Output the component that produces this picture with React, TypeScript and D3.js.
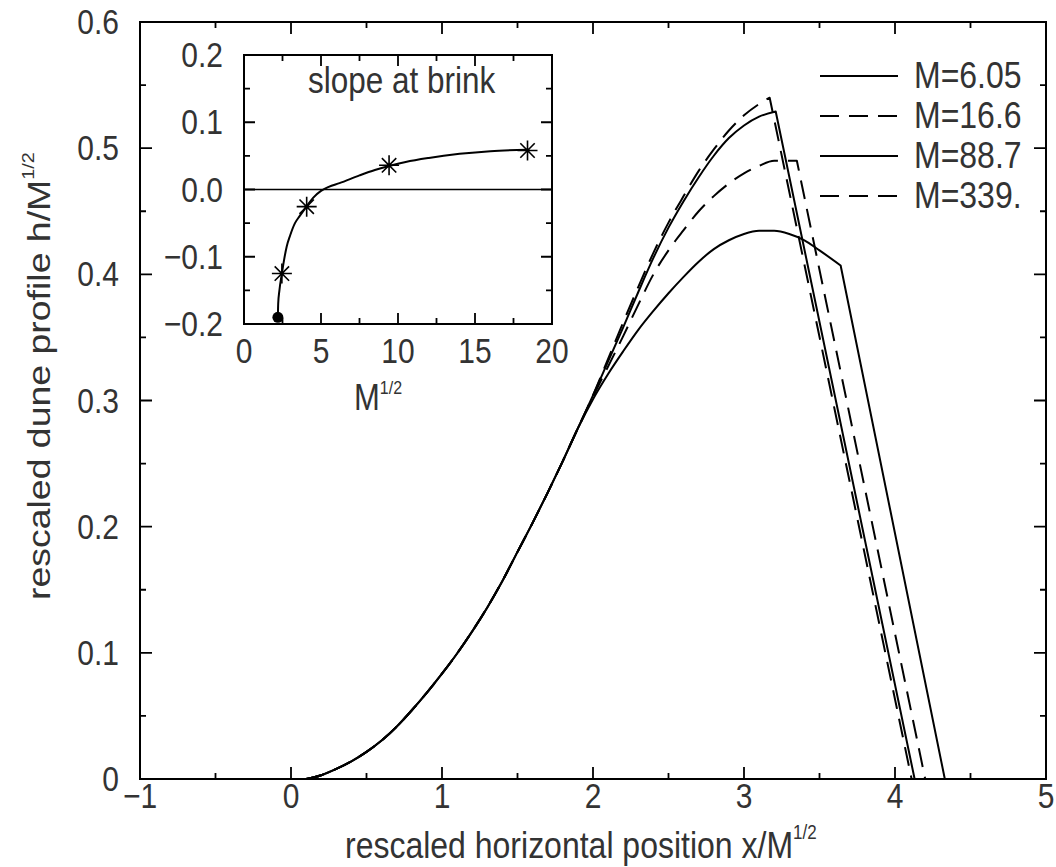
import React from "react";
import * as d3 from "d3";

// ---------- data ----------
// shared windward rise (all four profiles coincide here)
const riseX = [0.1, 0.2, 0.3, 0.4, 0.5, 0.6, 0.7, 0.8, 0.9, 1.0, 1.1, 1.2, 1.3, 1.4, 1.5, 1.6, 1.7, 1.8, 1.9];
const riseY = [0, 0.003, 0.008, 0.014, 0.0215, 0.0305, 0.0415, 0.0545, 0.0685, 0.0835, 0.0995, 0.117, 0.136, 0.157, 0.18, 0.203, 0.227, 0.252, 0.278];

// crest of each profile (up to the brink); last entry of each = foot of the slip face
const m605X = [2.0, 2.1, 2.2, 2.3, 2.4, 2.5, 2.6, 2.7, 2.8, 2.9, 3.0, 3.1, 3.2, 3.3, 3.4, 3.5, 3.64, 4.33];
const m605Y = [0.301, 0.321, 0.339, 0.356, 0.371, 0.385, 0.398, 0.41, 0.42, 0.427, 0.432, 0.4345, 0.4345, 0.432, 0.427, 0.419, 0.407, 0];

const m166X = [2.0, 2.1, 2.2, 2.3, 2.4, 2.5, 2.6, 2.7, 2.8, 2.9, 3.0, 3.1, 3.2, 3.35, 4.2];
const m166Y = [0.303, 0.327, 0.351, 0.376, 0.4, 0.419, 0.435, 0.45, 0.462, 0.472, 0.48, 0.486, 0.49, 0.49, 0];

const m887X = [2.0, 2.1, 2.2, 2.3, 2.4, 2.5, 2.6, 2.7, 2.8, 2.9, 3.0, 3.1, 3.21, 4.13];
const m887Y = [0.304, 0.331, 0.358, 0.386, 0.413, 0.437, 0.458, 0.477, 0.494, 0.508, 0.518, 0.525, 0.529, 0];

const m339X = [2.0, 2.1, 2.2, 2.3, 2.4, 2.5, 2.6, 2.7, 2.8, 2.9, 3.0, 3.1, 3.17, 4.11];
const m339Y = [0.304, 0.333, 0.362, 0.39, 0.417, 0.441, 0.462, 0.482, 0.499, 0.514, 0.526, 0.535, 0.54, 0];

const seriesLabels = ["M=6.05", "M=16.6", "M=88.7", "M=339."];
const seriesDashed = [false, true, false, true];

const xTickLabels = ["\u22121", "0", "1", "2", "3", "4", "5"];
const yTickLabels = ["0", "0.1", "0.2", "0.3", "0.4", "0.5", "0.6"];

// inset: slope at brink vs M^1/2
const insetCurveX = [2.2, 2.22, 2.3, 2.46, 2.6, 2.77, 3.0, 3.31, 3.6, 4.07, 4.5, 5.0, 5.5, 6.2, 7.5, 8.5, 9.42, 10.5, 12.0, 14.0, 16.0, 18.4];
const insetCurveY = [-0.19, -0.17, -0.15, -0.125, -0.105, -0.085, -0.068, -0.05, -0.04, -0.025, -0.012, -0.002, 0.004, 0.0095, 0.021, 0.029, 0.035, 0.041, 0.047, 0.053, 0.057, 0.059];
const insetStarX = [2.46, 4.07, 9.42, 18.41];
const insetStarY = [-0.125, -0.0255, 0.036, 0.058];
const insetDotX = [2.2];
const insetDotY = [-0.19];
const insetXTickLabels = ["0", "5", "10", "15", "20"];
const insetYTickLabels = ["\u22120.2", "\u22120.1", "0.0", "0.1", "0.2"];

// ---------- layout ----------
const W = 1056;
const H = 867;
const FONT = "'Liberation Sans', Arial, Helvetica, sans-serif";
const TXT = "#333";
const SY = 1.17;

const x = d3.scaleLinear().domain([-1, 5]).range([140, 1046]);
const y = d3.scaleLinear().domain([0, 0.6]).range([779, 22]);
const ix = d3.scaleLinear().domain([0, 20]).range([244, 552]);
const iy = d3.scaleLinear().domain([-0.2, 0.2]).range([324, 55]);

const zip = (xs: number[], ys: number[]) => xs.map((v, i) => [v, ys[i]] as [number, number]);

const crestSets: [number[], number[]][] = [
  [m605X, m605Y],
  [m166X, m166Y],
  [m887X, m887Y],
  [m339X, m339Y],
];

const smoothLine = d3
  .line<[number, number]>()
  .x((d) => x(d[0]))
  .y((d) => y(d[1]))
  .curve(d3.curveMonotoneX);

// smooth windward side up to the brink, then a straight slip face
function profilePath(cx: number[], cy: number[]): string {
  const pts = [...zip(riseX, riseY), ...zip(cx, cy)];
  const smooth = pts.slice(0, pts.length - 1);
  const foot = pts[pts.length - 1];
  return (smoothLine(smooth) || "") + `L${x(foot[0])},${y(foot[1])}`;
}

const insetLine = d3
  .line<[number, number]>()
  .x((d) => ix(d[0]))
  .y((d) => iy(d[1]))
  .curve(d3.curveMonotoneX);

function T(props: {
  x: number;
  y: number;
  size: number;
  anchor?: string;
  children: React.ReactNode;
  sy?: number;
}) {
  const { x: tx, y: ty, size, anchor = "start", children, sy = SY } = props;
  return (
    <text
      transform={`translate(${tx},${ty}) scale(1,${sy})`}
      fontFamily={FONT}
      fontSize={size}
      fill={TXT}
      textAnchor={anchor}
    >
      {children}
    </text>
  );
}

function Frame(props: {
  xs: d3.ScaleLinear<number, number>;
  ys: d3.ScaleLinear<number, number>;
  xMajor: number[];
  xMinor: number[];
  yMajor: number[];
  yMinor: number[];
  major: number;
  minor: number;
}) {
  const { xs, ys, xMajor, xMinor, yMajor, yMinor, major, minor } = props;
  const [x0, x1] = xs.range();
  const [y0, y1] = ys.range(); // y0 bottom, y1 top
  const segs: string[] = [];
  xMajor.forEach((v) => {
    const px = xs(v);
    segs.push(`M${px},${y0}V${y0 - major}`);
    segs.push(`M${px},${y1}V${y1 + major}`);
  });
  xMinor.forEach((v) => {
    const px = xs(v);
    segs.push(`M${px},${y0}V${y0 - minor}`);
    segs.push(`M${px},${y1}V${y1 + minor}`);
  });
  yMajor.forEach((v) => {
    const py = ys(v);
    segs.push(`M${x0},${py}H${x0 + major}`);
    segs.push(`M${x1},${py}H${x1 - major}`);
  });
  yMinor.forEach((v) => {
    const py = ys(v);
    segs.push(`M${x0},${py}H${x0 + minor}`);
    segs.push(`M${x1},${py}H${x1 - minor}`);
  });
  return (
    <g>
      <path d={segs.join("")} stroke="#000" strokeWidth={1.8} fill="none" />
      <rect x={x0} y={y1} width={x1 - x0} height={y0 - y1} fill="none" stroke="#000" strokeWidth={2} />
    </g>
  );
}

function Star(props: { cx: number; cy: number; r: number }) {
  const { cx, cy, r } = props;
  const d = r * 0.72;
  const p = `M${cx},${cy - r}V${cy + r}M${cx - r},${cy}H${cx + r}M${cx - d},${cy - d}L${cx + d},${cy + d}M${cx - d},${cy + d}L${cx + d},${cy - d}`;
  return <path d={p} stroke="#000" strokeWidth={1.6} fill="none" />;
}

export default function App() {
  const xMajor = d3.range(-1, 5.001, 1);
  const xMinor = d3.range(-0.5, 5, 1);
  const yMajor = d3.range(0, 0.6001, 0.1);
  const yMinor = d3.range(0.05, 0.6, 0.1);

  const ixMajor = d3.range(0, 20.001, 5);
  const ixMinor = d3.range(2.5, 20, 5);
  const iyMajor = d3.range(-0.2, 0.2001, 0.1);
  const iyMinor = d3.range(-0.15, 0.2, 0.1);

  const DASH = "19,10";
  const legendY = [76, 116, 156, 196];

  return (
    <svg
      width={W}
      height={H}
      viewBox={`0 0 ${W} ${H}`}
      style={{ position: "absolute", left: 0, top: 0, background: "#fff" }}
    >
      <rect x={0} y={0} width={W} height={H} fill="#fff" />

      {/* profiles */}
      {crestSets.map(([cx, cy], i) => (
        <path
          key={i}
          d={profilePath(cx, cy)}
          fill="none"
          stroke="#000"
          strokeWidth={2}
          strokeDasharray={seriesDashed[i] ? DASH : undefined}
          strokeLinejoin="round"
        />
      ))}

      <Frame xs={x} ys={y} xMajor={xMajor} xMinor={xMinor} yMajor={yMajor} yMinor={yMinor} major={12} minor={6} />

      {/* main tick labels */}
      {xMajor.map((v, i) => (
        <T key={"xl" + i} x={x(v)} y={808} size={30} anchor="middle">
          {xTickLabels[i]}
        </T>
      ))}
      {yMajor.map((v, i) => (
        <T key={"yl" + i} x={119} y={y(v) + 12} size={30} anchor="end">
          {yTickLabels[i]}
        </T>
      ))}

      {/* axis titles */}
      <text
        transform={`translate(345,858) scale(1,${SY})`}
        fontFamily={FONT}
        fontSize={32}
        fill={TXT}
      >
        rescaled horizontal position x/M
        <tspan fontSize={17} dy={-16}>
          1/2
        </tspan>
      </text>
      <text
        transform={`translate(50,600) rotate(-90) scale(${SY},1)`}
        fontFamily={FONT}
        fontSize={32}
        fill={TXT}
      >
        rescaled dune profile h/M
        <tspan fontSize={17} dy={-16}>
          1/2
        </tspan>
      </text>

      {/* legend */}
      {seriesLabels.map((lab, i) => (
        <g key={"lg" + i}>
          <line
            x1={820}
            x2={898}
            y1={legendY[i]}
            y2={legendY[i]}
            stroke="#000"
            strokeWidth={2}
            strokeDasharray={seriesDashed[i] ? DASH : undefined}
          />
          <T x={914} y={legendY[i] + 12} size={32}>
            {lab}
          </T>
        </g>
      ))}

      {/* inset */}
      <rect x={244} y={55} width={308} height={269} fill="#fff" />
      <line x1={ix(0)} x2={ix(20)} y1={iy(0)} y2={iy(0)} stroke="#000" strokeWidth={1.6} />
      <path
        d={insetLine(zip(insetCurveX, insetCurveY)) || ""}
        fill="none"
        stroke="#000"
        strokeWidth={2}
      />
      {insetStarX.map((v, i) => (
        <Star key={"st" + i} cx={ix(v)} cy={iy(insetStarY[i])} r={10} />
      ))}
      {insetDotX.map((v, i) => (
        <circle key={"dt" + i} cx={ix(v)} cy={iy(insetDotY[i])} r={5.5} fill="#000" />
      ))}
      <Frame
        xs={ix}
        ys={iy}
        xMajor={ixMajor}
        xMinor={ixMinor}
        yMajor={iyMajor}
        yMinor={iyMinor}
        major={11}
        minor={6}
      />
      {ixMajor.map((v, i) => (
        <T key={"ixl" + i} x={ix(v)} y={363} size={30} anchor="middle">
          {insetXTickLabels[i]}
        </T>
      ))}
      {iyMajor.map((v, i) => (
        <T key={"iyl" + i} x={223} y={iy(v) + 12} size={30} anchor="end">
          {insetYTickLabels[i]}
        </T>
      ))}
      <T x={308} y={93} size={31.5}>
        slope at brink
      </T>
      <text
        transform={`translate(354,410) scale(1,${SY})`}
        fontFamily={FONT}
        fontSize={31}
        fill={TXT}
      >
        M
        <tspan fontSize={16} dy={-14}>
          1/2
        </tspan>
      </text>
    </svg>
  );
}
